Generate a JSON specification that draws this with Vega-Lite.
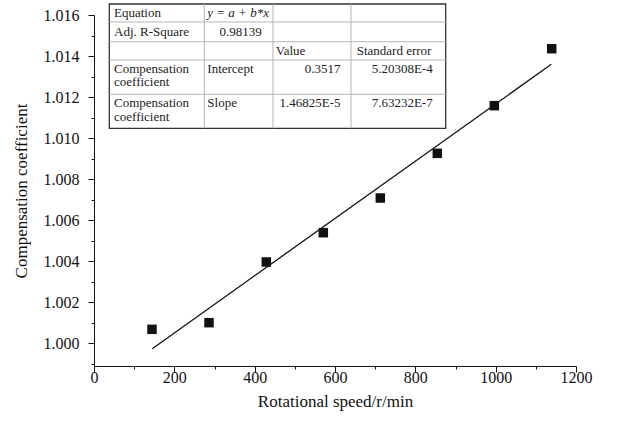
{
  "$schema": "https://vega.github.io/schema/vega-lite/v6.json",
  "autosize": "none",
  "width": 482,
  "height": 351,
  "padding": {"left": 94, "top": 15, "right": 55, "bottom": 59},
  "background": "white",
  "config": {
    "view": {"stroke": null},
    "font": "Liberation Serif",
    "axis": {
      "labelFont": "Liberation Serif",
      "titleFont": "Liberation Serif",
      "labelFontSize": 16,
      "titleFontSize": 17,
      "titleFontWeight": "normal",
      "labelColor": "#111",
      "titleColor": "#111",
      "domainColor": "#111",
      "tickColor": "#111",
      "grid": false
    }
  },
  "datasets": {
    "pts": [
      {"speed": 144.4, "coef": 1.000679},
      {"speed": 286.3, "coef": 1.001001},
      {"speed": 429.0, "coef": 1.003960},
      {"speed": 570.9, "coef": 1.005388},
      {"speed": 712.8, "coef": 1.007079},
      {"speed": 854.7, "coef": 1.009258},
      {"speed": 996.6, "coef": 1.011579},
      {"speed": 1139.5, "coef": 1.014357}
    ],
    "fit": [
      {"speed": 145.1, "coef": 0.999733},
      {"speed": 1138.5, "coef": 1.013597}
    ],
    "box": [
      {"speed": 38.09, "speed2": 875.6, "coef": 1.016536, "coef2": 1.010477}
    ],
    "lines": [
      {"speed": 274.6, "speed2": 274.6, "coef": 1.016536, "coef2": 1.010477},
      {"speed": 445.6, "speed2": 445.6, "coef": 1.016536, "coef2": 1.010477},
      {"speed": 639.8, "speed2": 639.8, "coef": 1.016536, "coef2": 1.010477},
      {"speed": 38.09, "speed2": 875.6, "coef": 1.015659, "coef2": 1.015659},
      {"speed": 38.09, "speed2": 875.6, "coef": 1.014698, "coef2": 1.014698},
      {"speed": 38.09, "speed2": 875.6, "coef": 1.013806, "coef2": 1.013806},
      {"speed": 38.09, "speed2": 875.6, "coef": 1.012134, "coef2": 1.012134}
    ],
    "cells": [
      {"t": "Equation", "speed": 49.8, "coef": 1.016112, "a": "left"},
      {"t": "Adj. R-Square", "speed": 49.8, "coef": 1.015186, "a": "left"},
      {"t": "Compensation", "speed": 49.8, "coef": 1.013368, "a": "left"},
      {"t": "coefficient", "speed": 49.8, "coef": 1.01271, "a": "left"},
      {"t": "Compensation", "speed": 49.8, "coef": 1.011686, "a": "left"},
      {"t": "coefficient", "speed": 49.8, "coef": 1.011028, "a": "left"},
      {"t": "Intercept", "speed": 282.1, "coef": 1.013368, "a": "left"},
      {"t": "Slope", "speed": 282.1, "coef": 1.011686, "a": "left"},
      {"t": "Value", "speed": 452.4, "coef": 1.014269, "a": "left"},
      {"t": "Standard error", "speed": 654.0, "coef": 1.014269, "a": "left"},
      {"t": "0.98139", "speed": 417.5, "coef": 1.015186, "a": "right"},
      {"t": "0.3517", "speed": 613.7, "coef": 1.013368, "a": "right"},
      {"t": "1.46825E-5", "speed": 613.7, "coef": 1.011686, "a": "right"},
      {"t": "5.20308E-4", "speed": 843.2, "coef": 1.013368, "a": "right"},
      {"t": "7.63232E-7", "speed": 843.2, "coef": 1.011686, "a": "right"},
      {"t": "y = a + b*x", "speed": 282.1, "coef": 1.016112, "a": "italic"}
    ]
  },
  "encoding": {
    "x": {
      "field": "speed", "type": "quantitative",
      "title": "Rotational speed/r/min",
      "scale": {"domain": [0, 1200], "nice": false, "zero": false},
      "axis": {
        "values": [0, 100, 200, 300, 400, 500, 600, 700, 800, 900, 1000, 1100, 1200],
        "labelExpr": "datum.value % 200 === 0 ? datum.label : ''",
        "format": "d",
        "tickSize": {"condition": {"test": "datum.value % 200 === 0", "value": 6}, "value": 3},
        "labelPadding": -3,
        "titlePadding": 8,
        "labelFlush": false,
        "labelOverlap": false
      }
    },
    "y": {
      "field": "coef", "type": "quantitative",
      "title": "Compensation coefficient",
      "scale": {"domain": [0.99889, 1.016], "nice": false, "zero": false},
      "axis": {
        "values": [0.999, 1.000, 1.001, 1.002, 1.003, 1.004, 1.005, 1.006, 1.007, 1.008, 1.009, 1.010, 1.011, 1.012, 1.013, 1.014, 1.015, 1.016],
        "format": ".3f",
        "labelExpr": "round(datum.value * 1000) % 2 === 0 ? datum.label : ''",
        "tickSize": {"condition": {"test": "round(datum.value * 1000) % 2 === 0", "value": 6}, "value": 3},
        "labelPadding": 9,
        "titlePadding": 13,
        "labelFlush": false,
        "labelOverlap": false
      }
    }
  },
  "layer": [
    {
      "data": {"name": "fit"},
      "mark": {"type": "line", "color": "#111", "strokeWidth": 1.3}
    },
    {
      "data": {"name": "pts"},
      "mark": {"type": "point", "shape": "square", "filled": true, "color": "#111", "size": 90, "opacity": 1}
    },
    {
      "data": {"name": "box"},
      "mark": {"type": "rect", "fill": "white", "stroke": "#333", "strokeWidth": 1.3},
      "encoding": {
        "x2": {"field": "speed2"},
        "y2": {"field": "coef2"}
      }
    },
    {
      "data": {"name": "lines"},
      "mark": {"type": "rule", "color": "#b5b5b5", "strokeWidth": 1},
      "encoding": {
        "x2": {"field": "speed2"},
        "y2": {"field": "coef2"}
      }
    },
    {
      "data": {"name": "cells"},
      "transform": [{"filter": "datum.a === 'left'"}],
      "mark": {"type": "text", "align": "left", "baseline": "middle", "font": "Liberation Serif", "fontSize": 13, "color": "#222"},
      "encoding": {"text": {"field": "t"}}
    },
    {
      "data": {"name": "cells"},
      "transform": [{"filter": "datum.a === 'right'"}],
      "mark": {"type": "text", "align": "right", "baseline": "middle", "font": "Liberation Serif", "fontSize": 13, "color": "#222"},
      "encoding": {"text": {"field": "t"}}
    },
    {
      "data": {"name": "cells"},
      "transform": [{"filter": "datum.a === 'italic'"}],
      "mark": {"type": "text", "align": "left", "baseline": "middle", "font": "Liberation Serif", "fontSize": 13, "fontStyle": "italic", "color": "#222"},
      "encoding": {"text": {"field": "t"}}
    }
  ]
}
